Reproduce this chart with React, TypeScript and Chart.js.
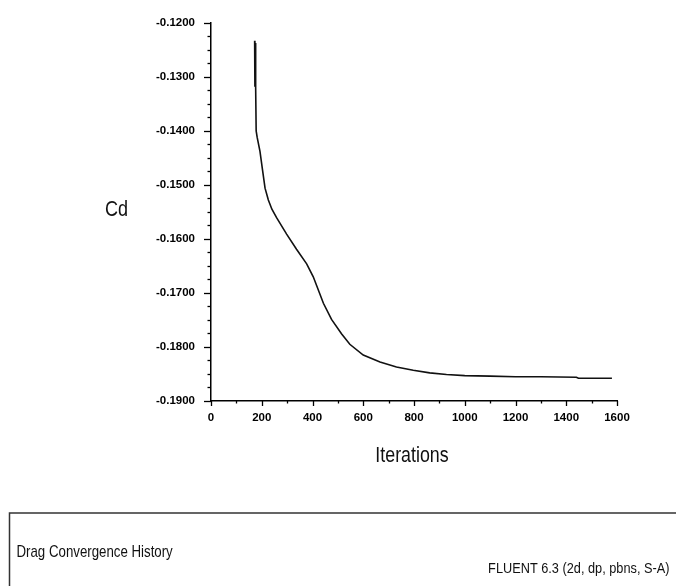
import React, { useEffect, useRef } from "react";
import { Chart, registerables } from "chart.js";

Chart.register(...registerables);

const iterations = [172, 173, 174, 175, 176, 177, 178, 182, 193, 203, 213, 226, 240, 259, 298, 337, 377, 403, 443, 475, 515, 547, 600, 666, 731, 797, 862, 928, 1000, 1100, 1200, 1300, 1440, 1448, 1500, 1580];
const cdValues = [-0.1233, -0.1318, -0.1237, -0.1318, -0.1242, -0.1320, -0.1400, -0.1412, -0.1438, -0.1472, -0.1506, -0.1528, -0.1545, -0.1561, -0.1591, -0.1619, -0.1646, -0.1670, -0.1719, -0.1749, -0.1776, -0.1795, -0.1815, -0.1828, -0.1837, -0.1843, -0.1848, -0.1851, -0.1853, -0.1854, -0.1855, -0.1855, -0.1856, -0.1858, -0.1858, -0.1858];

const xMin = 0;
const xMax = 1600;
const yMin = -0.19;
const yMax = -0.12;

const yAxisLabel = "Cd";
const xAxisLabel = "Iterations";
const plotTitle = "Drag Convergence History";
const solverLabel = "FLUENT 6.3 (2d, dp, pbns, S-A)";

const FONT = "'Liberation Sans', Arial, sans-serif";

const isMajorY = (v: number) => Math.abs(v * 100 - Math.round(v * 100)) < 1e-6;
const isMajorX = (v: number) => Math.abs(v % 200) < 1e-6;

function drawScaledText(
  ctx: CanvasRenderingContext2D,
  text: string,
  x: number,
  y: number,
  size: number,
  sx: number,
  align: CanvasTextAlign
) {
  ctx.save();
  ctx.translate(x, y);
  ctx.scale(sx, 1);
  ctx.font = `${size}px ${FONT}`;
  ctx.textAlign = align;
  ctx.textBaseline = "alphabetic";
  ctx.fillStyle = "#111";
  ctx.fillText(text, 0, 0);
  ctx.restore();
}

const decorPlugin = {
  id: "decor",
  afterDraw(chart: any) {
    const { ctx } = chart;
    const xs = chart.scales.x;
    const ys = chart.scales.y;
    ctx.save();
    ctx.strokeStyle = "#000";
    ctx.lineWidth = 1.3;
    for (const t of ys.ticks) {
      const py = Math.round(ys.getPixelForValue(t.value)) + 0.5;
      const len = isMajorY(t.value) ? 7 : 3.5;
      ctx.beginPath();
      ctx.moveTo(ys.right - len, py);
      ctx.lineTo(ys.right, py);
      ctx.stroke();
    }
    for (const t of xs.ticks) {
      const px = Math.round(xs.getPixelForValue(t.value)) + 0.5;
      const len = isMajorX(t.value) ? 5 : 2.5;
      ctx.beginPath();
      ctx.moveTo(px, xs.top);
      ctx.lineTo(px, xs.top + len);
      ctx.stroke();
    }
    ctx.restore();

    drawScaledText(ctx, yAxisLabel, 116.5, 216, 22, 0.82, "center");
    drawScaledText(ctx, xAxisLabel, 412, 462, 22, 0.81, "center");

    ctx.save();
    ctx.strokeStyle = "#333";
    ctx.lineWidth = 1.5;
    ctx.beginPath();
    ctx.moveTo(9.5, 600);
    ctx.lineTo(9.5, 513);
    ctx.lineTo(680, 513);
    ctx.stroke();
    ctx.restore();

    drawScaledText(ctx, plotTitle, 16.5, 557, 17, 0.78, "left");
    drawScaledText(ctx, solverLabel, 669.5, 573, 15, 0.85, "right");
  },
};

export default function App() {
  const ref = useRef<HTMLCanvasElement | null>(null);
  useEffect(() => {
    if (!ref.current) return;
    const chart = new Chart(ref.current, {
      type: "line",
      data: {
        datasets: [
          {
            data: iterations.map((x, i) => ({ x, y: cdValues[i] })),
            borderColor: "#111",
            borderWidth: 1.6,
            pointRadius: 0,
            tension: 0,
            fill: false,
          },
        ],
      },
      options: {
        animation: false,
        responsive: false,
        layout: { padding: { top: 15, right: 59, left: 0, bottom: 0 } },
        plugins: { legend: { display: false }, tooltip: { enabled: false } },
        scales: {
          x: {
            type: "linear",
            min: xMin,
            max: xMax,
            grid: { display: false, drawTicks: false, tickLength: 0 },
            border: { display: true, color: "#000", width: 1.5 },
            ticks: {
              stepSize: 100,
              autoSkip: false,
              maxRotation: 0,
              padding: 10,
              color: "#000",
              font: { family: FONT, size: 11.5, weight: "bold" },
              callback: (v: any) => (isMajorX(Number(v)) ? String(v) : ""),
            },
            afterFit: (s: any) => {
              s.height = 185;
            },
          },
          y: {
            type: "linear",
            min: yMin,
            max: yMax,
            grid: { display: false, drawTicks: false, tickLength: 0 },
            border: { display: true, color: "#000", width: 1.5 },
            ticks: {
              stepSize: 0.0025,
              autoSkip: false,
              padding: 16,
              color: "#000",
              font: { family: FONT, size: 11.5, weight: "bold" },
              callback: (v: any) => (isMajorY(Number(v)) ? Number(v).toFixed(4) : ""),
            },
            afterFit: (s: any) => {
              s.width = 211;
            },
          },
        },
      },
      plugins: [decorPlugin],
    });
    return () => chart.destroy();
  }, []);
  return (
    <div style={{ position: "absolute", left: 0, top: 0, width: 676, height: 586, background: "#fff" }}>
      <canvas ref={ref} width={676} height={586} style={{ display: "block" }} />
    </div>
  );
}
